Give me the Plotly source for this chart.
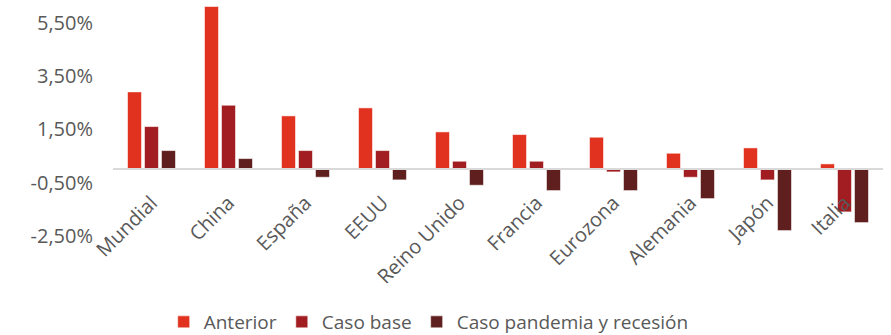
import plotly.graph_objects as go

# Growth forecasts by region (%), three scenarios
categories = ["Mundial", "China", "España", "EEUU", "Reino Unido", "Francia",
              "Eurozona", "Alemania", "Japón", "Italia"]
anterior = [2.9, 6.1, 2.0, 2.3, 1.4, 1.3, 1.2, 0.6, 0.8, 0.2]
caso_base = [1.6, 2.4, 0.7, 0.7, 0.3, 0.3, -0.1, -0.3, -0.4, -1.6]
caso_pandemia = [0.7, 0.4, -0.3, -0.4, -0.6, -0.8, -0.8, -1.1, -2.3, -2.0]

series_names = ["Anterior", "Caso base", "Caso pandemia y recesión"]
series_colors = ["#E1311F", "#A11D21", "#5F1F1F"]

y_tick_values = [5.5, 3.5, 1.5, -0.5, -2.5]
y_tick_labels = ["5,50%", "3,50%", "1,50%", "-0,50%", "-2,50%"]

y_min, y_max = -4.49, 6.27
text_color = "#595959"
font_family = "Open Sans, DejaVu Sans, sans-serif"

fig = go.Figure()
for name, values, color in zip(series_names,
                               [anterior, caso_base, caso_pandemia],
                               series_colors):
    fig.add_trace(go.Bar(
        x=categories, y=values, name=name,
        marker=dict(color=color, line=dict(color="rgba(255,255,255,0.55)", width=1)),
    ))

fig.update_layout(
    width=891, height=335,
    margin=dict(l=113, r=8, t=2, b=46, autoexpand=False),
    paper_bgcolor="white", plot_bgcolor="white",
    barmode="group", bargap=0.338, bargroupgap=0.176,
    font=dict(family=font_family, size=20, color=text_color),
    showlegend=True,
    legend=dict(orientation="h", x=0.41, xanchor="center",
                y=-0.115, yanchor="middle",
                font=dict(size=19, color=text_color),
                itemwidth=30, tracegroupgap=0),
)

fig.update_xaxes(
    type="category",
    anchor="free", position=(0 - y_min) / (y_max - y_min),
    showline=True, linecolor="#D9D9D9", linewidth=2, layer="above traces",
    showgrid=False, zeroline=False, ticks="",
    tickangle=-45, ticklabelstandoff=13,
    tickfont=dict(size=20, color=text_color),
)
fig.update_yaxes(
    range=[y_min, y_max],
    tickmode="array", tickvals=y_tick_values, ticktext=y_tick_labels,
    showgrid=False, zeroline=False, showline=False, ticks="",
    ticklabelstandoff=19,
    tickfont=dict(size=20, color=text_color),
)

fig.write_html("out.html")
